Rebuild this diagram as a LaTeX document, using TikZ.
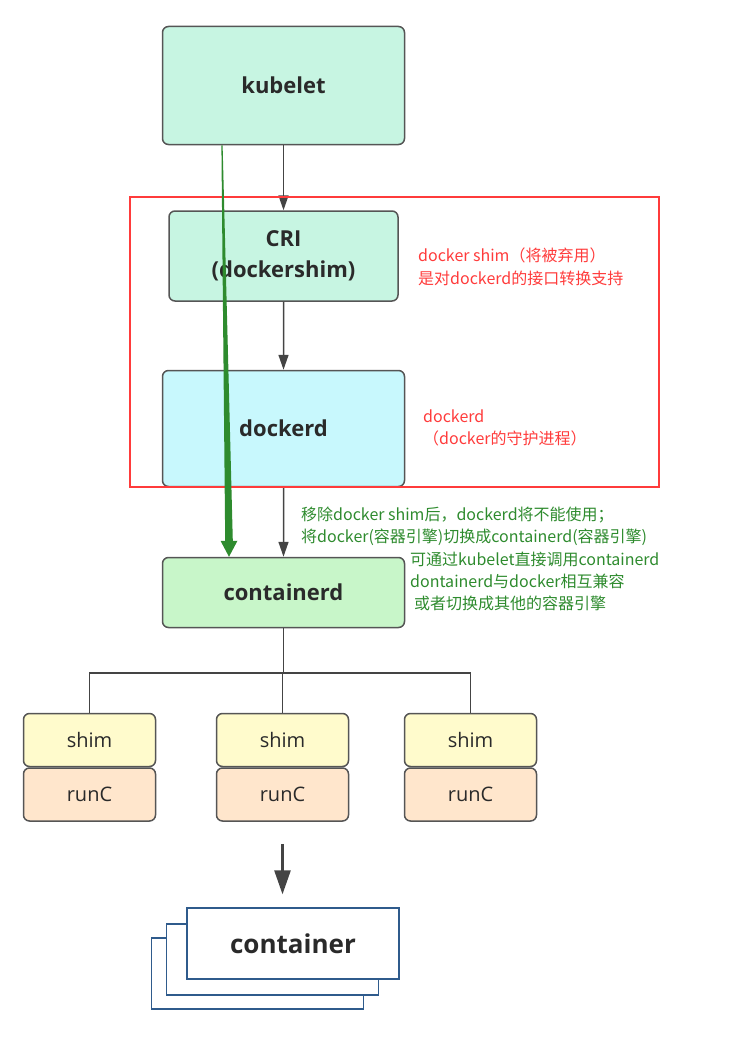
\documentclass[tikz,border=0pt]{standalone}
\usepackage{fontspec}
\setmainfont{Open Sans}
\newfontfamily\cjk{Noto Sans CJK SC}
\usetikzlibrary{arrows.meta,positioning}

\definecolor{kubefill}{HTML}{C7F5E2}
\definecolor{dockerdfill}{HTML}{C8F8FD}
\definecolor{ctrdfill}{HTML}{C8F6C9}
\definecolor{shimfill}{HTML}{FFFBCC}
\definecolor{runcfill}{HTML}{FFE6CC}
\definecolor{boxline}{HTML}{555555}
\definecolor{linegray}{HTML}{444444}
\definecolor{labeltext}{HTML}{2A2A2A}
\definecolor{notered}{HTML}{FF3B3B}
\definecolor{notegreen}{HTML}{2E8B2E}
\definecolor{stackblue}{HTML}{2F5B8C}

\tikzset{
  compbox/.style={draw=boxline, line width=1.5pt, rounded corners=6pt,
    align=center, text=labeltext},
  bigbox/.style={compbox, font=\bfseries\fontsize{22}{31}\selectfont,
    minimum width=242pt},
  smallbox/.style={compbox, font=\fontsize{20}{24}\selectfont,
    minimum width=132pt, minimum height=53pt},
  stackbox/.style={draw=stackblue, line width=1.3pt, fill=white,
    minimum width=212pt, minimum height=71pt},
  flow/.style={draw=linegray, line width=1.5pt,
    -{Triangle[length=15pt,width=10pt]}},
  rednote/.style={text=notered, font=\cjk\fontsize{16}{22.7}\selectfont,
    align=left, anchor=west, inner sep=0pt},
  greennote/.style={text=notegreen, font=\cjk\fontsize{16}{22}\selectfont,
    align=left, anchor=west, inner sep=0pt}
}

\begin{document}
\begin{tikzpicture}[x=1pt, y=-1pt,
  edge from parent/.style={flow},
  level 1/.style={level distance=170.5pt},
  level 2/.style={level distance=172.5pt},
  level 3/.style={level distance=164pt},
  level 4/.style={level distance=147.5pt, sibling distance=190pt,
    edge from parent/.style={draw=linegray, line width=1.5pt},
    edge from parent path={(\tikzparentnode.south) -- ++(0,44.5)
      -| (\tikzchildnode.north)}}]
  \useasboundingbox (0,0) rectangle (741,1041);

  \node[bigbox, fill=kubefill, minimum height=118pt] (kubelet) at (283.5,85.5) {kubelet}
    % CRI
    child { node[bigbox, fill=kubefill, minimum width=229pt, minimum height=90pt] (cri) {CRI\\(dockershim)}
      % dockerd
      child { node[bigbox, fill=dockerdfill, minimum height=116pt] (dockerd) {dockerd}
        % containerd
        child { node[bigbox, fill=ctrdfill, minimum height=70pt] (containerd) {containerd}
          child[xshift=-4pt] { node[smallbox, fill=shimfill] (shimA) {shim} }
          child[xshift=-1pt] { node[smallbox, fill=shimfill] (shimB) {shim} }
          child[xshift=-3pt] { node[smallbox, fill=shimfill] (shimC) {shim} }
        }
      }
    };

  \node[smallbox, fill=runcfill, below=0pt of shimA] (runcA) {runC};
  \node[smallbox, fill=runcfill, below=0pt of shimB] (runcB) {runC};
  \node[smallbox, fill=runcfill, below=0pt of shimC] (runcC) {runC};

  % container stack
  \node[stackbox] (stackC) at (257.5,973.5) {};
  \node[stackbox] (stackB) at (272.5,959.5) {};
  \node[stackbox, font=\bfseries\fontsize{26}{30}\selectfont, text=labeltext] (container) at (293,943.5) {container};
  \draw[flow, line width=2.6pt, -{Triangle[length=24pt,width=16pt]}, shorten <=22pt, shorten >=13pt]
    (runcB.south) -- (runcB.south |- container.north);

  % notes
  \draw[notered, line width=2.5pt] (130,197) rectangle (659,487);
  \node[rednote] (shimnote) at (418,266.5) {docker shim（将被弃用）\\是对dockerd的接口转换支持};
  \node[rednote] (daemonnote) at (423,428) {dockerd\\（docker的守护进程）};
  \node[greennote] (removenote) at (301,526.5) {移除docker shim后，dockerd将不能使用；\\将docker(容器引擎)切换成containerd(容器引擎)};
  \node[greennote] (switchnote) at (410,581) {可通过kubelet直接调用containerd\\dontainerd与docker相互兼容\\\hspace{4pt}或者切换成其他的容器引擎};

  % kubelet -> containerd directly
  \coordinate (gtop) at ([xshift=-61.5pt]kubelet.south);
  \coordinate (gtip) at ([xshift=-54.5pt]containerd.north);
  \fill[notegreen] ([xshift=-0.6pt]gtop) -- ([xshift=0.6pt]gtop)
    -- ([xshift=3.8pt,yshift=16pt]gtip) -- ([xshift=8.5pt,yshift=16pt]gtip) -- (gtip)
    -- ([xshift=-8.5pt,yshift=16pt]gtip) -- ([xshift=-3.8pt,yshift=16pt]gtip) -- cycle;
\end{tikzpicture}
\end{document}
